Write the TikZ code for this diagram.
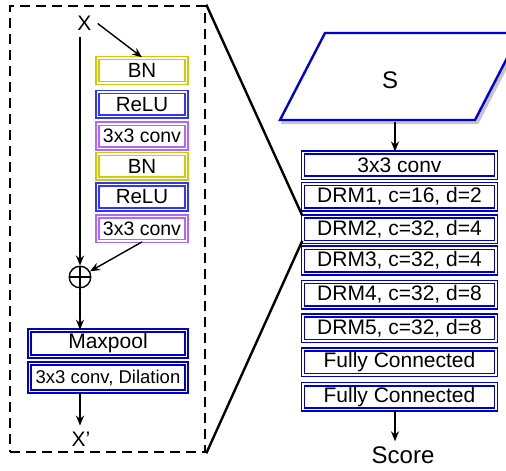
\documentclass[tikz,border=0pt]{standalone}
\usepackage{fontspec}
\setmainfont{Liberation Sans}
\usetikzlibrary{arrows.meta,calc}
\definecolor{ylw}{RGB}{204,204,0}
\definecolor{rblue}{RGB}{51,51,255}
\definecolor{cpurple}{RGB}{178,102,255}
\definecolor{dblue}{RGB}{0,0,204}
\definecolor{sblue}{RGB}{0,0,220}
\newcommand\setfs[1]{\fontsize{#1}{#1}\selectfont}
\begin{document}
\begin{tikzpicture}[x=1pt,y=-1pt,
  dbl/.style={draw=#1, double=white, line width=1.6pt, double distance=1.5pt, inner sep=0pt},
  lbox/.style={minimum width=89pt, minimum height=24.8pt, font=\setfs{20.5}},
  mbox/.style={dbl=dblue, minimum width=157pt, font=\setfs{21}},
  rbox/.style={dbl=dblue, minimum width=192.8pt, minimum height=25.5pt, font=\setfs{21}},
  arr/.style={line width=1.4pt, -{Stealth[length=10pt,width=8pt]}},
  lbl/.style={inner sep=6pt, font=\setfs{21}}]
\useasboundingbox (0,0) rectangle (506,471);

% dashed block and zoom lines
\node[draw, line width=2.6pt, dash pattern=on 10pt off 6pt, minimum width=195pt, minimum height=446pt, inner sep=0pt] (blk) at (107.5,229) {};

% left block
\node[lbl] (x) at (84.5,23.5) {X};
\node[dbl=ylw, lbox] (bn1) at (142,70.5) {BN};
\node[dbl=rblue, lbox] (relu1) at (142,104.3) {ReLU};
\node[dbl=cpurple, lbox, font=\setfs{19.5}] (conv1) at (142,136.2) {3x3 conv};
\node[dbl=ylw, lbox] (bn2) at (142,166.3) {BN};
\node[dbl=rblue, lbox] (relu2) at (142,197) {ReLU};
\node[dbl=cpurple, lbox, font=\setfs{19.5}] (conv2) at (142,228.7) {3x3 conv};
\node[circle, draw, line width=1.4pt, minimum size=21.5pt, inner sep=0pt] (plus) at (80,277) {};
\draw[line width=1.4pt] (plus.north) -- (plus.south) (plus.west) -- (plus.east);
\node[mbox, minimum height=26pt] (mp) at (108,343.5) {Maxpool};
\node[mbox, minimum height=28pt, font=\setfs{18.5}] (dil) at (108,377.5) {3x3 conv, Dilation};
\node[lbl] (xp) at (81,439) {X\char"27};

\draw[arr] (x.east) -- (bn1.north);
\draw[arr] (x.south -| plus.north) -- (plus.north);
\draw[arr] (conv2.south) -- (plus);
\draw[arr] (plus.south) -- (mp.north -| plus.south);
\draw[arr] (dil.south -| plus.south) -- (xp.north -| plus.south);

% right side
\begin{scope}
\clip (0,0) rectangle (506,471);
\filldraw[draw=gray!45, fill=gray!45, line width=2.4pt] (282.5,123) -- (477.5,123) -- (522.5,36) -- (327.5,36) -- cycle;
\filldraw[draw=sblue, fill=white, line width=2.4pt] (280,120) -- (475,120) -- (520,33) -- (325,33) -- cycle;
\end{scope}
\node[font=\setfs{24}] (s) at (390,80) {S};
\coordinate (sb) at (395,121.5);

\node[rbox] (c0) at (399.5,165) {3x3 conv};
\node[rbox] (d1) at (399.5,196.7) {DRM1, c=16, d=2};
\node[rbox] (d2) at (399.5,229.2) {DRM2, c=32, d=4};
\node[rbox] (d3) at (399.5,260.5) {DRM3, c=32, d=4};
\node[rbox] (d4) at (399.5,294.7) {DRM4, c=32, d=8};
\node[rbox] (d5) at (399.5,328.3) {DRM5, c=32, d=8};
\node[rbox] (f1) at (399.5,362.2) {Fully Connected};
\node[rbox] (f2) at (399.5,396.9) {Fully Connected};
\node[inner sep=5pt, font=\setfs{24}] (score) at (403,455) {Score};

\draw[arr] (sb) -- (c0.north -| sb);
\draw[arr] (f2.south -| sb) -- (score.north -| sb);

\draw[line width=2.4pt] (blk.north east) -- (d2.north west);
\draw[line width=2.4pt] (blk.south east) -- ([yshift=2pt]d2.south west);
\end{tikzpicture}
\end{document}
